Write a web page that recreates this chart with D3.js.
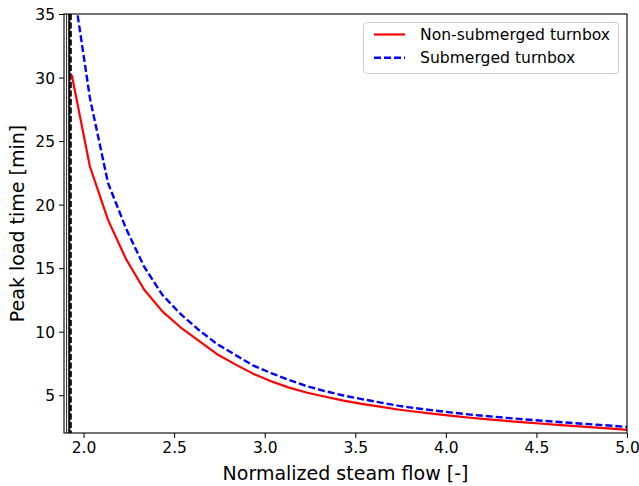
<!DOCTYPE html>
<html>
<head>
<meta charset="utf-8">
<script src="https://cdn.jsdelivr.net/npm/d3@7"></script>
<style>
html,body{margin:0;padding:0;background:#fff;}
svg{display:block;font-family:"DejaVu Sans",sans-serif;}
</style>
</head>
<body>
<svg id="chart" width="639" height="486"></svg>
<script>
// ---- data ----
const steamFlow = [1.935,2.035,2.135,2.235,2.335,2.435,2.535,2.635,2.735,2.835,2.935,3.035,3.135,3.235,3.335,3.435,3.535,3.635,3.735,3.835,3.935,4.035,4.135,4.235,4.335,4.435,4.535,4.635,4.735,4.835,4.935,5.0];
const nonSubmerged = [30.2,23.0,18.8,15.7,13.3,11.6,10.35,9.3,8.25,7.45,6.7,6.1,5.6,5.2,4.88,4.58,4.32,4.1,3.88,3.7,3.53,3.38,3.23,3.1,2.98,2.87,2.76,2.65,2.55,2.45,2.35,2.28];
const submerged = [38.0,28.4,21.7,18.1,15.1,12.9,11.4,10.15,9.05,8.2,7.35,6.75,6.2,5.7,5.32,4.98,4.7,4.44,4.18,3.98,3.8,3.63,3.48,3.35,3.22,3.1,2.99,2.88,2.78,2.68,2.58,2.5];
const seriesNames = ["Non-submerged turnbox","Submerged turnbox"];
const seriesColors = ["#ff0000","#0000ff"];
const xTicks = [2.0,2.5,3.0,3.5,4.0,4.5,5.0];
const yTicks = [5,10,15,20,25,30,35];
const xDomain = [1.892,5.0];
const yDomain = [2.03,35];
const vLines = [1.9065,1.921,1.930];

// ---- layout ----
const svg = d3.select("#chart");
const L=64, R=627, T=14, B=433;
const x = d3.scaleLinear().domain(xDomain).range([L,R]);
const y = d3.scaleLinear().domain(yDomain).range([B,T]);

svg.append("defs").append("clipPath").attr("id","clip")
  .append("rect").attr("x",L).attr("y",T).attr("width",R-L).attr("height",B-T);

const plot = svg.append("g").attr("clip-path","url(#clip)");

// vertical reference lines
plot.append("line").attr("x1",x(vLines[0])).attr("x2",x(vLines[0])).attr("y1",T).attr("y2",B)
  .attr("stroke","#222").attr("stroke-width",1);
plot.append("line").attr("x1",x(vLines[1])).attr("x2",x(vLines[1])).attr("y1",T).attr("y2",B)
  .attr("stroke","#000").attr("stroke-width",2);
plot.append("line").attr("x1",x(vLines[2])).attr("x2",x(vLines[2])).attr("y1",T).attr("y2",B)
  .attr("stroke","#000").attr("stroke-width",1.8).attr("stroke-dasharray","6,2.5");

const line = d3.line().x(d=>x(d[0])).y(d=>y(d[1]));
const redData = steamFlow.map((v,i)=>[v,nonSubmerged[i]]);
const blueData = steamFlow.map((v,i)=>[v,submerged[i]]);
plot.append("path").attr("d",line(redData)).attr("fill","none")
  .attr("stroke",seriesColors[0]).attr("stroke-width",2.2).attr("stroke-linejoin","round");
plot.append("path").attr("d",line(blueData)).attr("fill","none")
  .attr("stroke",seriesColors[1]).attr("stroke-width",2.4).attr("stroke-dasharray","7,3");

// axes
const xAxis = svg.append("g").attr("transform",`translate(0,${B})`)
  .call(d3.axisBottom(x).tickValues(xTicks).tickFormat(d3.format(".1f")).tickSize(5).tickPadding(4));
const yAxis = svg.append("g").attr("transform",`translate(${L},0)`)
  .call(d3.axisLeft(y).tickValues(yTicks).tickFormat(d3.format("d")).tickSize(5).tickPadding(4));
[xAxis,yAxis].forEach(a=>{
  a.select(".domain").remove();
  a.selectAll("text").attr("font-family","DejaVu Sans").attr("font-size","15.5px").attr("fill","#000");
  a.selectAll(".tick line").attr("stroke","#000").attr("stroke-width",1);
});
yAxis.selectAll("text").attr("dy","0.36em");

// frame
svg.append("rect").attr("x",L).attr("y",T).attr("width",R-L).attr("height",B-T)
  .attr("fill","none").attr("stroke","#000").attr("stroke-width",1.1);

// axis labels
svg.append("text").attr("x",(L+R)/2).attr("y",480).attr("text-anchor","middle")
  .attr("font-size","19px").text("Normalized steam flow [-]");
svg.append("text").attr("transform",`translate(24,${(T+B)/2}) rotate(-90)`).attr("text-anchor","middle")
  .attr("font-size","19px").text("Peak load time [min]");

// legend
const lg = svg.append("g");
lg.append("rect").attr("x",363.5).attr("y",22.5).attr("width",255).attr("height",51).attr("rx",3)
  .attr("fill","#fff").attr("fill-opacity",0.8).attr("stroke","#cccccc").attr("stroke-width",1);
seriesNames.forEach((n,i)=>{
  const yy = 34.5 + i*23.3;
  lg.append("line").attr("x1",374).attr("x2",405).attr("y1",yy).attr("y2",yy)
    .attr("stroke",seriesColors[i]).attr("stroke-width",i===0?2.2:2.4)
    .attr("stroke-dasharray",i===0?null:"7,3");
  lg.append("text").attr("x",420).attr("y",yy).attr("dy","0.36em")
    .attr("font-size","15.6px").text(n);
});
</script>
</body>
</html>
